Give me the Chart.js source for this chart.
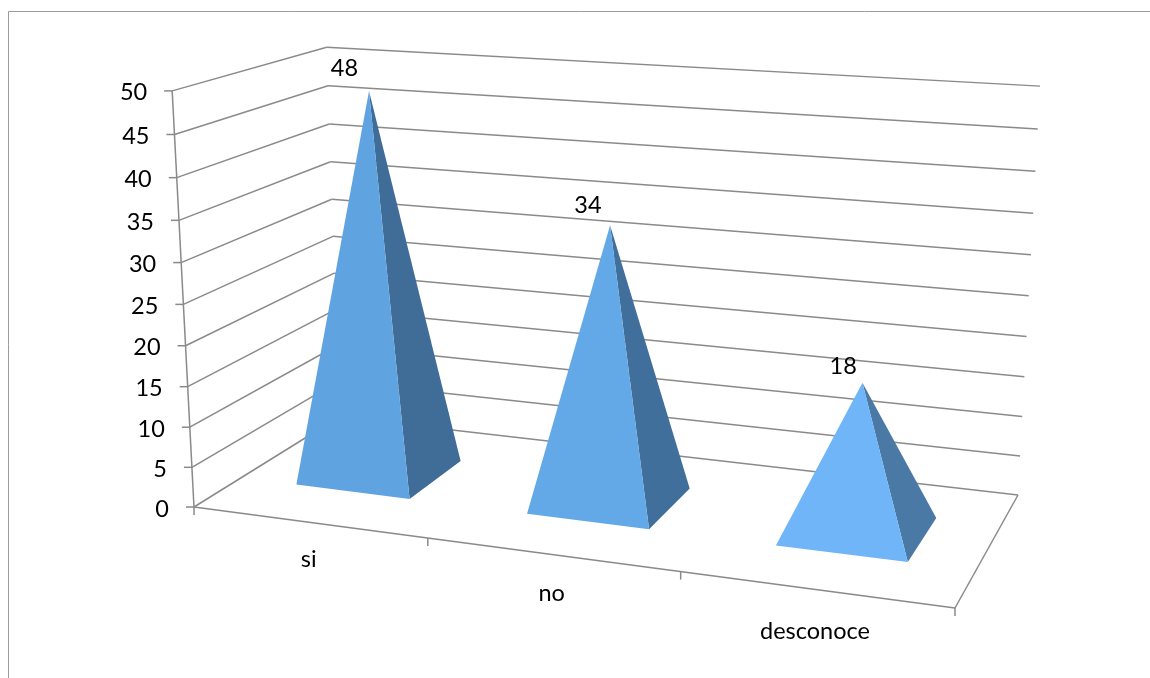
<!DOCTYPE html>
<html>
<head>
<meta charset="utf-8">
<style>html,body{margin:0;padding:0;background:#fff;overflow:hidden}canvas{display:block}</style>
<script src="https://cdn.jsdelivr.net/npm/chart.js@4"></script>
</head>
<body>
<canvas id="c" width="1150" height="678"></canvas>
<script>
const categories = ['si', 'no', 'desconoce'];
const values = [48, 34, 18];
const yTicks = [0, 5, 10, 15, 20, 25, 30, 35, 40, 45, 50];
const frontColors = ['#5fa3e1', '#63a8e7', '#70b5f8'];
const sideColors = ['#3f6d97', '#406f9b', '#4a79a6'];

const FONT = '23.5px Lato, Carlito, "Open Sans", sans-serif';
const GRID = '#8a8a8a';

// Camera of the 3D view: floor of the plot box (front-left, front-right, back-right, back-left),
// vanishing point of the vertical direction, and its perspective strength.
const floorQuad = [[194, 507], [955, 608], [1018, 495], [339, 417]];
const VANISH = [600, 8250], VERT = -0.051;
const DEPTH_HALF = 0.2, BAR_SHARE = 0.5;

function homography(q) {
  const [p0, p1, p2, p3] = q;
  const dx1 = p1[0] - p2[0], dx2 = p3[0] - p2[0], dy1 = p1[1] - p2[1], dy2 = p3[1] - p2[1];
  const sx = p0[0] - p1[0] + p2[0] - p3[0], sy = p0[1] - p1[1] + p2[1] - p3[1];
  const det = dx1 * dy2 - dx2 * dy1;
  const g = (sx * dy2 - dx2 * sy) / det, h = (dx1 * sy - sx * dy1) / det;
  const a = p1[0] - p0[0] + g * p1[0], b = p3[0] - p0[0] + h * p3[0];
  const d = p1[1] - p0[1] + g * p1[1], e = p3[1] - p0[1] + h * p3[1];
  return (u, v) => {
    const w = 1 + g * u + h * v;
    return { x: (a * u + b * v + p0[0]) / w, y: (d * u + e * v + p0[1]) / w, w };
  };
}
const floorH = homography(floorQuad);

function project(u, depth, t) {
  const f = floorH(u, depth);
  const r = VERT * t / (f.w + VERT * t);
  return [f.x + (VANISH[0] - f.x) * r, f.y + (VANISH[1] - f.y) * r];
}
function line(ctx, a, b) { ctx.beginPath(); ctx.moveTo(a[0], a[1]); ctx.lineTo(b[0], b[1]); ctx.stroke(); }
function poly(ctx, pts, color) {
  ctx.beginPath(); pts.forEach((p, i) => i ? ctx.lineTo(p[0], p[1]) : ctx.moveTo(p[0], p[1]));
  ctx.closePath(); ctx.fillStyle = color; ctx.fill();
}

const pyramid3d = {
  id: 'pyramid3d',
  beforeDatasetsDraw(chart) {
    const ctx = chart.ctx, x = chart.scales.x, y = chart.scales.y;
    const frac = v => (y.bottom - y.getPixelForValue(v)) / (y.bottom - y.top);
    ctx.save();
    ctx.fillStyle = '#fff'; ctx.fillRect(0, 0, chart.width, chart.height);
    ctx.strokeStyle = '#9c9c9c'; ctx.lineWidth = 1;
    ctx.beginPath(); ctx.moveTo(8.5, chart.height); ctx.lineTo(8.5, 11.5); ctx.lineTo(chart.width, 11.5); ctx.stroke();

    ctx.strokeStyle = GRID; ctx.lineWidth = 1.5;
    ctx.font = FONT; ctx.fillStyle = '#000'; ctx.textAlign = 'right'; ctx.textBaseline = 'middle';
    yTicks.forEach(v => {
      const t = frac(v), fl = project(0, 0, t), bl = project(0, 1, t), br = project(1, 1, t);
      line(ctx, [fl[0] - 8, fl[1]], fl); line(ctx, fl, bl); line(ctx, bl, br);
      ctx.fillText(String(v), fl[0] - 25, fl[1] + 2);
    });
    line(ctx, project(0, 0, 0), project(0, 0, 1));
    line(ctx, project(0, 0, 0), project(1, 0, 0));
    line(ctx, project(1, 0, 0), project(1, 1, 0));
    for (let i = 0; i <= categories.length; i++) {
      const p = project(i / categories.length, 0, 0);
      line(ctx, p, [p[0], p[1] + 8]);
    }
    ctx.textAlign = 'center'; ctx.textBaseline = 'alphabetic'; ctx.fillStyle = '#000';
    categories.forEach((c, i) => {
      const u = (x.getPixelForValue(i) - x.left) / x.width, p = project(u, 0, 0);
      ctx.fillText(c, p[0], p[1] + 43 + 8 * u);
    });
    ctx.restore();
  },
  afterDatasetsDraw(chart) {
    const ctx = chart.ctx, x = chart.scales.x, y = chart.scales.y;
    const meta = chart.getDatasetMeta(0);
    ctx.save();
    meta.data.forEach((bar, i) => {
      const uc = (bar.x - x.left) / x.width, half = bar.width / 2 / x.width;
      const t = (y.bottom - bar.y) / (y.bottom - y.top);
      const apex = project(uc, 0.5, t);
      const fl = project(uc - half, 0.5 - DEPTH_HALF, 0);
      const fr = project(uc + half, 0.5 - DEPTH_HALF, 0);
      const br = project(uc + half, 0.5 + DEPTH_HALF, 0);
      poly(ctx, [apex, fr, br], sideColors[i]);
      poly(ctx, [apex, fl, fr], frontColors[i]);
      ctx.font = FONT; ctx.fillStyle = '#000'; ctx.textAlign = 'center'; ctx.textBaseline = 'middle';
      ctx.fillText(String(values[i]), apex[0] - 16 - 0.18 * values[i], apex[1] - 13 - 0.19 * values[i]);
    });
    ctx.restore();
  }
};

new Chart(document.getElementById('c'), {
  type: 'bar',
  data: {
    labels: categories,
    datasets: [{ data: values, backgroundColor: 'rgba(0,0,0,0)', borderWidth: 0,
                 barPercentage: BAR_SHARE, categoryPercentage: 1 }]
  },
  options: {
    responsive: false,
    animation: false,
    events: [],
    layout: { padding: 0 },
    plugins: { legend: { display: false }, tooltip: { enabled: false } },
    scales: {
      x: { display: false },
      y: { display: false, min: 0, max: 50, ticks: { stepSize: 5 } }
    }
  },
  plugins: [pyramid3d]
});
</script>
</body>
</html>
